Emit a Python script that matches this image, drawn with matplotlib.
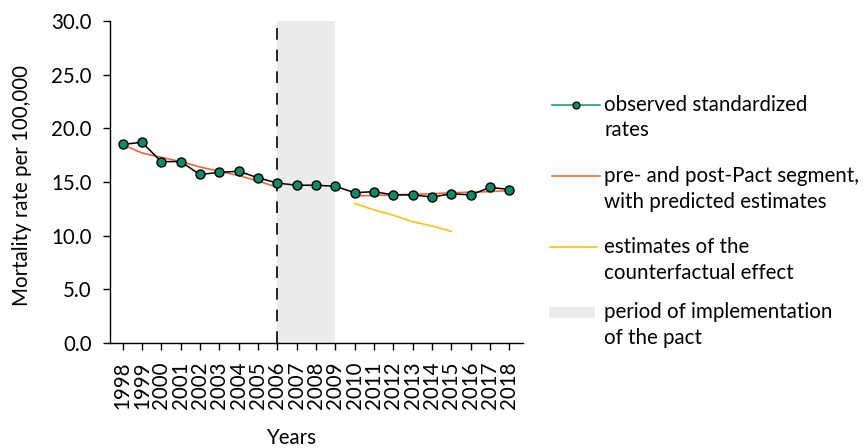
import matplotlib
matplotlib.use('Agg')
import matplotlib.pyplot as plt
from matplotlib.lines import Line2D
from matplotlib.patches import Rectangle

plt.rcParams['font.family'] = ['Lato', 'DejaVu Sans']

# 数据
years = list(range(1998, 2019))
observed = [18.5, 18.7, 16.9, 16.9, 15.7, 15.9, 16.0, 15.4, 14.9, 14.7, 14.7,
            14.6, 14.0, 14.1, 13.8, 13.8, 13.6, 13.9, 13.8, 14.5, 14.3]

pre_years = list(range(1998, 2007))
pre_fit = [18.5, 17.7, 17.3, 16.9, 16.4, 16.0, 15.6, 15.1, 14.5]

post_years = list(range(2010, 2019))
post_fit = [13.7, 13.75, 13.8, 13.85, 13.9, 14.0, 14.05, 14.1, 14.2]

cf_years = list(range(2010, 2016))
counterfactual = [13.0, 12.4, 11.9, 11.3, 10.9, 10.4]

pact_start, pact_end = 2006, 2009

yticks = [0, 5, 10, 15, 20, 25, 30]

green = '#0b8a68'
orange = '#f0673a'
yellow = '#f5c21b'
shade = '#ebebeb'
fs = 14.8

fig = plt.figure(figsize=(8.65, 4.48), dpi=100)
ax = fig.add_axes([110 / 865, 1 - 343 / 448, 413 / 865, 322 / 448])

ax.axvspan(pact_start, pact_end, color=shade, lw=0, zorder=0)
ax.axvline(pact_start, color='black', lw=1.2, ls=(0, (7, 6)), zorder=1)

ax.plot(pre_years, pre_fit, color=orange, lw=1.2, zorder=2)
ax.plot(post_years, post_fit, color=orange, lw=1.2, zorder=2)
ax.plot(cf_years, counterfactual, color=yellow, lw=1.2, zorder=2)
ax.plot(years, observed, color='black', lw=1.1, marker='o', ms=6.5,
        mfc=green, mec='black', mew=1.0, zorder=3)

ax.set_xlim(1997.35, 2018.7)
ax.set_ylim(0, 30)
ax.set_yticks(yticks)
ax.set_yticklabels([f'{v:.1f}' for v in yticks])
ax.set_xticks(years)
ax.set_xticklabels([str(y) for y in years], rotation=90)
ax.tick_params(axis='both', labelsize=fs, length=5, width=1.0, direction='out')
ax.tick_params(axis='y', pad=8)
ax.tick_params(axis='x', pad=8)

for s in ['top', 'right']:
    ax.spines[s].set_visible(False)
for s in ['left', 'bottom']:
    ax.spines[s].set_linewidth(1.0)

ax.set_ylabel('Mortality rate per 100,000', fontsize=fs, va='center')
ax.yaxis.set_label_coords(-0.213, 0.49)
ax.set_xlabel('Years', fontsize=fs, va='center')
ax.xaxis.set_label_coords(0.438, -0.295)

# 图例（手动绘制）
W, H = 865, 448


def fx(px):
    return px / W


def fy(py):
    return 1 - py / H


fig.add_artist(Line2D([fx(552), fx(600)], [fy(105), fy(105)], color='#1aa57e', lw=1.2))
fig.add_artist(Line2D([fx(576)], [fy(105)], marker='o', ms=5, mfc=green, mec='black', mew=0.9))
fig.add_artist(Line2D([fx(552), fx(600)], [fy(176), fy(176)], color=orange, lw=1.2))
fig.add_artist(Line2D([fx(550), fx(597)], [fy(247), fy(247)], color=yellow, lw=1.2))
fig.add_artist(Rectangle((fx(549), fy(318)), fx(595) - fx(549), fy(307) - fy(318),
                         color=shade, lw=0))

legend_items = [
    (105, 'observed standardized', 'rates'),
    (176, 'pre- and post-Pact segment,', 'with predicted estimates'),
    (247, 'estimates of the', 'counterfactual effect'),
    (312, 'period of implementation', 'of the pact'),
]
for py, l1, l2 in legend_items:
    fig.text(fx(604), fy(py), l1, fontsize=fs, va='center', ha='left')
    fig.text(fx(604), fy(py + 25.5), l2, fontsize=fs, va='center', ha='left')

fig.savefig('out.png', dpi=100)
